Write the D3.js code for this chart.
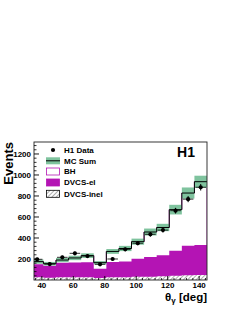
<!DOCTYPE html>
<html>
<head>
<meta charset="utf-8">
<script src="https://cdn.jsdelivr.net/npm/d3@7/dist/d3.min.js"></script>
<style>
  body { margin: 0; background: #fff; }
  svg { display: block; }
</style>
</head>
<body>
<div id="chart"></div>
<script>

// theta_gamma bins [deg]
const binEdges = [33, 41, 49, 57, 65, 73, 81, 89, 97, 105, 113, 121, 129, 137, 145];
const dataValues = [197, 152, 216, 254, 228, 149, 200, 292, 350, 435, 475, 660, 770, 883];
const dataErrors = [15, 13, 15, 17, 16, 13, 15, 18, 20, 22, 23, 27, 29, 31];
const mcSum = [175, 155, 190, 210, 232, 165, 272, 300, 365, 457, 500, 670, 828, 936];
const mcErrors = [20, 17, 20, 21, 22, 15, 23, 25, 29, 33, 35, 46, 53, 57];
const dvcsEl = [125, 113, 140, 142, 144, 86, 147, 148, 172, 187, 200, 238, 280, 285];
const dvcsInel = [25, 22, 25, 25, 25, 20, 25, 27, 30, 32, 35, 40, 45, 48];

const xTicks = [40, 60, 80, 100, 120, 140];
const yTicks = [200, 400, 600, 800, 1000, 1200];
const legendLabels = ['H1 Data', 'MC Sum', 'BH', 'DVCS-el', 'DVCS-inel'];

const width = 240;
const height = 311;
const plot = { left: 34, right: 207, top: 142, bottom: 280 };
const font = "'Liberation Sans', Arial, Helvetica, sans-serif";
const green = '#7fc39e';
const magenta = '#b414b4';

const svg = d3.select('#chart')
  .append('svg')
  .attr('width', width)
  .attr('height', height);

const x = d3.scaleLinear()
  .domain([35, 145])
  .range([plot.left, plot.right]);

const y = d3.scaleLinear()
  .domain([0, 1314])
  .range([plot.bottom, plot.top]);

const defs = svg.append('defs');

defs.append('clipPath')
  .attr('id', 'plot-clip')
  .append('rect')
  .attr('x', plot.left)
  .attr('y', plot.top)
  .attr('width', plot.right - plot.left)
  .attr('height', plot.bottom - plot.top);

const hatch = defs.append('pattern')
  .attr('id', 'hatch')
  .attr('patternUnits', 'userSpaceOnUse')
  .attr('width', 3)
  .attr('height', 3)
  .attr('patternTransform', 'rotate(45)');
hatch.append('rect')
  .attr('width', 3)
  .attr('height', 3)
  .attr('fill', '#fff');
hatch.append('line')
  .attr('x1', 0).attr('y1', 0)
  .attr('x2', 0).attr('y2', 3)
  .attr('stroke', '#333')
  .attr('stroke-width', 0.8);

// bins -> step points
const bins = dataValues.map((v, i) => ({
  lo: binEdges[i],
  hi: binEdges[i + 1],
  mid: (binEdges[i] + binEdges[i + 1]) / 2,
  data: v,
  err: dataErrors[i],
  mc: mcSum[i],
  mcErr: mcErrors[i],
  el: dvcsEl[i],
  inel: dvcsInel[i]
}));

function stepPoints(accessor) {
  const pts = bins.map((b) => [b.lo, accessor(b)]);
  pts.push([bins[bins.length - 1].hi, accessor(bins[bins.length - 1])]);
  return pts;
}

const stepArea = d3.area()
  .curve(d3.curveStepAfter)
  .x((d) => x(d[0]))
  .y0(y(0))
  .y1((d) => y(d[1]));

const stepLine = d3.line()
  .curve(d3.curveStepAfter)
  .x((d) => x(d[0]))
  .y((d) => y(d[1]));

const g = svg.append('g')
  .attr('clip-path', 'url(#plot-clip)');

// BH on top of DVCS (stack total = MC sum)
g.append('path')
  .datum(stepPoints((b) => b.mc))
  .attr('fill', '#fff')
  .attr('stroke', magenta)
  .attr('stroke-width', 0.8)
  .attr('d', stepArea);

// DVCS-el stacked on DVCS-inel
g.append('path')
  .datum(stepPoints((b) => b.el + b.inel))
  .attr('fill', magenta)
  .attr('d', stepArea);

g.append('path')
  .datum(stepPoints((b) => b.inel))
  .attr('fill', 'url(#hatch)')
  .attr('d', stepArea);

// MC error band
g.selectAll('rect.band')
  .data(bins)
  .enter()
  .append('rect')
  .attr('class', 'band')
  .attr('x', (d) => x(d.lo))
  .attr('width', (d) => x(d.hi) - x(d.lo))
  .attr('y', (d) => y(d.mc + d.mcErr))
  .attr('height', (d) => y(d.mc - d.mcErr) - y(d.mc + d.mcErr))
  .attr('fill', green);

g.append('path')
  .datum(stepPoints((b) => b.mc))
  .attr('fill', 'none')
  .attr('stroke', '#000')
  .attr('stroke-width', 1)
  .attr('d', stepLine);

// data points
const pts = g.selectAll('g.pt')
  .data(bins)
  .enter()
  .append('g')
  .attr('class', 'pt');

pts.append('line')
  .attr('x1', (d) => x(d.lo) + 1)
  .attr('x2', (d) => x(d.hi) - 1)
  .attr('y1', (d) => y(d.data))
  .attr('y2', (d) => y(d.data))
  .attr('stroke', '#000')
  .attr('stroke-width', 0.8);

pts.append('line')
  .attr('x1', (d) => x(d.mid))
  .attr('x2', (d) => x(d.mid))
  .attr('y1', (d) => y(d.data + d.err))
  .attr('y2', (d) => y(d.data - d.err))
  .attr('stroke', '#000')
  .attr('stroke-width', 1);

pts.append('circle')
  .attr('cx', (d) => x(d.mid))
  .attr('cy', (d) => y(d.data))
  .attr('r', 2.1)
  .attr('fill', '#000');

// frame
svg.append('rect')
  .attr('x', plot.left)
  .attr('y', plot.top)
  .attr('width', plot.right - plot.left)
  .attr('height', plot.bottom - plot.top)
  .attr('fill', 'none')
  .attr('stroke', '#222')
  .attr('stroke-width', 0.9);

// y axis ticks
const yMinor = d3.range(40, 1314, 40).filter((v) => v % 200 !== 0);
svg.selectAll('line.ymaj')
  .data(yTicks)
  .enter()
  .append('line')
  .attr('x1', plot.left)
  .attr('x2', plot.left + 5)
  .attr('y1', (d) => y(d))
  .attr('y2', (d) => y(d))
  .attr('stroke', '#000')
  .attr('stroke-width', 0.9);

svg.selectAll('line.ymin')
  .data(yMinor)
  .enter()
  .append('line')
  .attr('x1', plot.left)
  .attr('x2', plot.left + 2.5)
  .attr('y1', (d) => y(d))
  .attr('y2', (d) => y(d))
  .attr('stroke', '#000')
  .attr('stroke-width', 0.8);

svg.selectAll('text.ylab')
  .data(yTicks)
  .enter()
  .append('text')
  .attr('x', plot.left - 3)
  .attr('y', (d) => y(d))
  .attr('dy', '0.35em')
  .attr('text-anchor', 'end')
  .attr('font-family', font)
  .attr('font-weight', 700)
  .attr('font-size', 8)
  .text((d) => d);

// x axis ticks
const xMinor = d3.range(36, 145, 4).filter((v) => v % 20 !== 0);
svg.selectAll('line.xmaj')
  .data(xTicks)
  .enter()
  .append('line')
  .attr('x1', (d) => x(d))
  .attr('x2', (d) => x(d))
  .attr('y1', plot.bottom)
  .attr('y2', plot.bottom - 4)
  .attr('stroke', '#000')
  .attr('stroke-width', 0.9);

svg.selectAll('line.xmin')
  .data(xMinor)
  .enter()
  .append('line')
  .attr('x1', (d) => x(d))
  .attr('x2', (d) => x(d))
  .attr('y1', plot.bottom)
  .attr('y2', plot.bottom - 2)
  .attr('stroke', '#000')
  .attr('stroke-width', 0.8);

svg.selectAll('text.xlab')
  .data(xTicks)
  .enter()
  .append('text')
  .attr('x', (d) => x(d))
  .attr('y', plot.bottom + 8)
  .attr('text-anchor', 'middle')
  .attr('font-family', font)
  .attr('font-weight', 700)
  .attr('font-size', 8)
  .text((d) => d);

// axis titles
const xTitle = svg.append('text')
  .attr('x', plot.right)
  .attr('y', 301)
  .attr('text-anchor', 'end')
  .attr('font-family', font)
  .attr('font-weight', 700)
  .attr('font-size', 11.5);
xTitle.append('tspan').text('θ');
xTitle.append('tspan').attr('font-size', 8).attr('dy', 2).text('γ');
xTitle.append('tspan').attr('dy', -2).text(' [deg]');

svg.append('text')
  .attr('transform', `translate(13, ${plot.top}) rotate(-90)`)
  .attr('text-anchor', 'end')
  .attr('font-family', font)
  .attr('font-weight', 700)
  .attr('font-size', 13)
  .text('Events');

svg.append('text')
  .attr('x', 195)
  .attr('y', 156.5)
  .attr('text-anchor', 'end')
  .attr('font-family', font)
  .attr('font-weight', 700)
  .attr('font-size', 14)
  .text('H1');

// legend
const legendY = [150, 160.8, 171.5, 182.5, 193.8];
const legend = svg.selectAll('g.legend')
  .data(legendLabels)
  .enter()
  .append('g')
  .attr('class', 'legend')
  .attr('transform', (_, i) => `translate(46, ${legendY[i]})`);

legend.append('text')
  .attr('x', 18)
  .attr('dy', '0.35em')
  .attr('font-family', font)
  .attr('font-weight', 700)
  .attr('font-size', 8)
  .text((d) => d);

legend.filter((_, i) => i === 0)
  .append('circle')
  .attr('cx', 7)
  .attr('r', 2.1)
  .attr('fill', '#000');

const mcKey = legend.filter((_, i) => i === 1);
mcKey.append('rect')
  .attr('x', 0).attr('y', -3.5)
  .attr('width', 14).attr('height', 7)
  .attr('fill', green);
mcKey.append('line')
  .attr('x1', 0).attr('x2', 14)
  .attr('stroke', '#000')
  .attr('stroke-width', 1);

legend.filter((_, i) => i > 1)
  .append('rect')
  .attr('x', 0.5).attr('y', -3.5)
  .attr('width', 13).attr('height', 7)
  .attr('fill', (_, i) => ['#fff', magenta, 'url(#hatch)'][i])
  .attr('stroke', (_, i) => [magenta, magenta, '#000'][i])
  .attr('stroke-width', 0.8);

</script>
</body>
</html>
